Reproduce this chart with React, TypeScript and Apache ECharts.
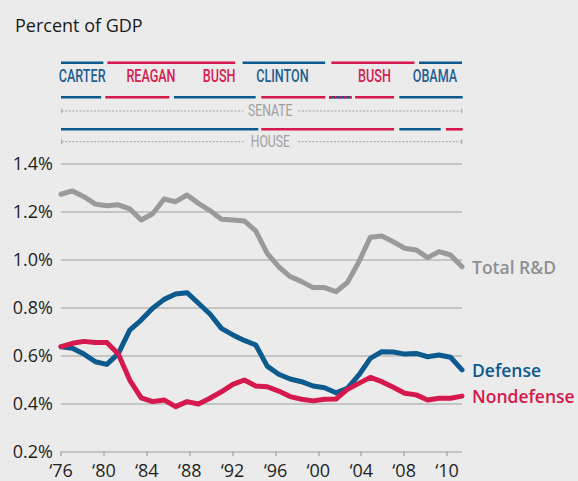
import React, { useEffect, useRef } from 'react';
import * as echarts from 'echarts';

// ---------- data ----------
const years = [
  1976, 1977, 1978, 1979, 1980, 1981, 1982, 1983, 1984, 1985, 1986, 1987,
  1988, 1989, 1990, 1991, 1992, 1993, 1994, 1995, 1996, 1997, 1998, 1999,
  2000, 2001, 2002, 2003, 2004, 2005, 2006, 2007, 2008, 2009, 2010, 2011,
];
const totalRD = [
  1.271, 1.285, 1.261, 1.23, 1.223, 1.227, 1.21, 1.164, 1.19, 1.251, 1.24, 1.268,
  1.233, 1.203, 1.167, 1.164, 1.16, 1.118, 1.025, 0.969, 0.928, 0.907, 0.882, 0.882,
  0.865, 0.903, 0.99, 1.092, 1.097, 1.073, 1.046, 1.039, 1.007, 1.032, 1.018, 0.969,
];
const defense = [
  0.636, 0.629, 0.605, 0.573, 0.562, 0.607, 0.705, 0.747, 0.796, 0.833, 0.855, 0.861,
  0.817, 0.772, 0.712, 0.685, 0.662, 0.643, 0.555, 0.521, 0.501, 0.49, 0.472, 0.465,
  0.444, 0.462, 0.518, 0.587, 0.615, 0.614, 0.605, 0.608, 0.594, 0.601, 0.592, 0.539,
];
const nondefense = [
  0.636, 0.65, 0.658, 0.653, 0.653, 0.605, 0.497, 0.423, 0.407, 0.414, 0.386, 0.407,
  0.397, 0.421, 0.448, 0.479, 0.497, 0.472, 0.469, 0.451, 0.428, 0.417, 0.41, 0.417,
  0.418, 0.458, 0.483, 0.508, 0.49, 0.467, 0.442, 0.435, 0.414, 0.421, 0.421, 0.43,
];
const xTickLabels = ['‘76', '‘80', '‘84', '‘88', '‘92', '‘96', '‘00', '‘04', '‘08', '‘10'];
const xTickSlots = [0, 1, 2, 3, 4, 5, 6, 7, 8, 9];

// party: 0 = Democrat, 1 = Republican, 2 = split
const presidentStart = [1976, 1980.05, 1991.85, 1999.6, 2007.25];
const presidentEnd = [1979.7, 1991.2, 1999.05, 2006.85, 2011];
const presidentParty = [0, 1, 0, 1, 0];
const presidentNames = ['CARTER', 'REAGAN', 'BUSH', 'CLINTON', 'BUSH', 'OBAMA'];
const presidentNameAt = [1977.85, 1983.85, 1989.8, 1995.33, 2003.36, 2008.64];
const presidentNameParty = [0, 1, 1, 0, 1, 0];

const senateStart = [1976, 1979.87, 1985.86, 1993.48, 1999.39, 2001.67, 2005.53];
const senateEnd = [1979.5, 1985.45, 1992.99, 1999.07, 2001.37, 2005.07, 2011.06];
const senateParty = [0, 1, 0, 1, 2, 1, 0];

const houseStart = [1976, 1993.48, 2005.53, 2009.6];
const houseEnd = [1993.22, 2005.07, 2009.14, 2011.06];
const houseParty = [0, 1, 0, 1];

// ---------- styles ----------
const BLUE = '#0d5a8f';
const RED = '#d5194d';
const GRAY = '#999a9c';
const BLUE_TXT = '#1f5f91';
const RED_TXT = '#d62150';
const FONT = '"Open Sans", "Noto Sans", sans-serif';
const COND = 'Roboto, "Noto Sans", sans-serif';
const ROW_Y = [62.7, 97.3, 129.3];
const NAME_Y = 76.7;

const pair = (vals: number[]) => vals.map((v, i) => [years[i], v]);

function buildBars() {
  const rows: number[][] = [];
  presidentStart.forEach((s, i) => rows.push([s, presidentEnd[i], 0, presidentParty[i]]));
  senateStart.forEach((s, i) => rows.push([s, senateEnd[i], 1, senateParty[i]]));
  houseStart.forEach((s, i) => rows.push([s, houseEnd[i], 2, houseParty[i]]));
  return rows;
}

function dividerGraphics(y: number, label: string, gapL: number, gapR: number) {
  const L = 61.7;
  const R = 461.7;
  const stroke = '#a3a3a3';
  return [
    { type: 'line', shape: { x1: L, y1: y, x2: gapL, y2: y }, style: { stroke, lineWidth: 1, lineDash: [2, 1.6] } },
    { type: 'line', shape: { x1: gapR, y1: y, x2: R, y2: y }, style: { stroke, lineWidth: 1, lineDash: [2, 1.6] } },
    { type: 'line', shape: { x1: L, y1: y - 2.4, x2: L, y2: y + 2.4 }, style: { stroke, lineWidth: 1 } },
    { type: 'line', shape: { x1: R, y1: y - 2.4, x2: R, y2: y + 2.4 }, style: { stroke, lineWidth: 1 } },
    {
      type: 'text',
      x: 270.3,
      y: y,
      scaleX: 0.74,
      style: {
        text: label,
        fill: '#a0a0a0',
        fontSize: 16.5,
        fontFamily: COND,
        align: 'center',
        verticalAlign: 'middle',
      },
    },
  ];
}

export default function App() {
  const ref = useRef<HTMLDivElement>(null);

  useEffect(() => {
    if (!ref.current) return;
    const chart = echarts.init(ref.current, null, { renderer: 'svg' });
    const partyColor = (p: number) => (p === 1 ? RED : BLUE);

    const option: any = {
      animation: false,
      backgroundColor: '#ebebeb',
      title: {
        text: 'Percent of GDP',
        left: 10,
        top: 11,
        textStyle: { fontSize: 18, fontWeight: 'normal', color: '#1a1a1a', fontFamily: FONT },
      },
      grid: { left: 61, top: 163.3, width: 401, height: 288, containLabel: false },
      xAxis: [
        { type: 'value', min: 1976, max: 2011, show: false },
        {
          type: 'value',
          min: 0,
          max: 9.35,
          position: 'bottom',
          axisLine: { show: false },
          splitLine: { show: false },
          axisTick: {
            show: true,
            length: 5,
            customValues: xTickSlots,
            lineStyle: { color: '#b0b0b0', width: 1.5 },
          },
          axisLabel: {
            customValues: xTickSlots,
            formatter: (v: number) => xTickLabels[Math.round(v)] ?? '',
            fontSize: 18,
            color: '#1f1f1f',
            fontFamily: FONT,
            margin: 10,
          },
        },
      ],
      yAxis: {
        type: 'value',
        min: 0.2,
        max: 1.4,
        interval: 0.2,
        axisLine: { show: false },
        axisTick: { show: false },
        axisLabel: {
          formatter: (v: number) => v.toFixed(1) + '%',
          fontSize: 18,
          color: '#1f1f1f',
          fontFamily: FONT,
          margin: 8,
        },
        splitLine: { lineStyle: { color: '#b9b9b9', width: 1.5 } },
      },
      series: [
        {
          name: 'Total R&D',
          type: 'line',
          data: pair(totalRD),
          symbol: 'none',
          lineStyle: { color: GRAY, width: 5, cap: 'round', join: 'round' },
          itemStyle: { color: GRAY },
          endLabel: {
            show: true,
            formatter: '{a}',
            color: '#8f9092',
            fontSize: 17.5,
            fontWeight: 600,
            fontFamily: FONT,
            distance: 10,
          },
          z: 2,
        },
        {
          name: 'Defense',
          type: 'line',
          data: pair(defense),
          symbol: 'none',
          lineStyle: { color: BLUE, width: 5, cap: 'round', join: 'round' },
          itemStyle: { color: BLUE },
          endLabel: {
            show: true,
            formatter: '{a}',
            color: BLUE,
            fontSize: 17.5,
            fontWeight: 600,
            fontFamily: FONT,
            distance: 10,
          },
          z: 3,
        },
        {
          name: 'Nondefense',
          type: 'line',
          data: pair(nondefense),
          symbol: 'none',
          lineStyle: { color: RED, width: 5, cap: 'round', join: 'round' },
          itemStyle: { color: RED },
          endLabel: {
            show: true,
            formatter: '{a}',
            color: RED,
            fontSize: 17.5,
            fontWeight: 600,
            fontFamily: FONT,
            distance: 10,
          },
          z: 4,
        },
        {
          name: 'control',
          type: 'custom',
          xAxisIndex: 0,
          yAxisIndex: 0,
          clip: false,
          silent: true,
          encode: { x: [0, 1], y: 2 },
          data: buildBars(),
          renderItem: (params: any, api: any) => {
            const s = api.coord([api.value(0), 0.8]);
            const e = api.coord([api.value(1), 0.8]);
            const y = ROW_Y[api.value(2)];
            const p = api.value(3);
            const rect = {
              type: 'rect',
              shape: { x: s[0], y: y - 1.3, width: e[0] - s[0], height: 2.6 },
              style: { fill: p === 2 ? BLUE : partyColor(p) },
            };
            if (p !== 2) return rect;
            return {
              type: 'group',
              children: [
                rect,
                {
                  type: 'line',
                  shape: { x1: s[0], y1: y, x2: e[0], y2: y },
                  style: { stroke: RED, lineWidth: 2.6, lineDash: [2.5, 2.5] },
                },
              ],
            };
          },
        },
        {
          name: 'presidents',
          type: 'custom',
          xAxisIndex: 0,
          yAxisIndex: 0,
          clip: false,
          silent: true,
          encode: { x: 0, y: 1 },
          data: presidentNameAt.map((x, i) => [x, presidentNameParty[i]]),
          renderItem: (params: any, api: any) => {
            const c = api.coord([api.value(0), 0.8]);
            const p = api.value(1);
            return {
              type: 'text',
              x: c[0],
              y: NAME_Y,
              scaleX: 0.7,
              style: {
                text: presidentNames[params.dataIndex],
                fill: p === 1 ? RED_TXT : BLUE_TXT,
                fontSize: 18,
                fontWeight: 500,
                fontFamily: COND,
                align: 'center',
                verticalAlign: 'middle',
              },
            };
          },
        },
      ],
      graphic: [
        ...dividerGraphics(111, 'SENATE', 243.3, 298.3),
        ...dividerGraphics(141.7, 'HOUSE', 245, 298),
      ],
    };

    chart.setOption(option);
    return () => chart.dispose();
  }, []);

  return (
    <div
      ref={ref}
      style={{ position: 'fixed', left: 0, top: 0, width: 578, height: 481, background: '#ebebeb' }}
    />
  );
}
